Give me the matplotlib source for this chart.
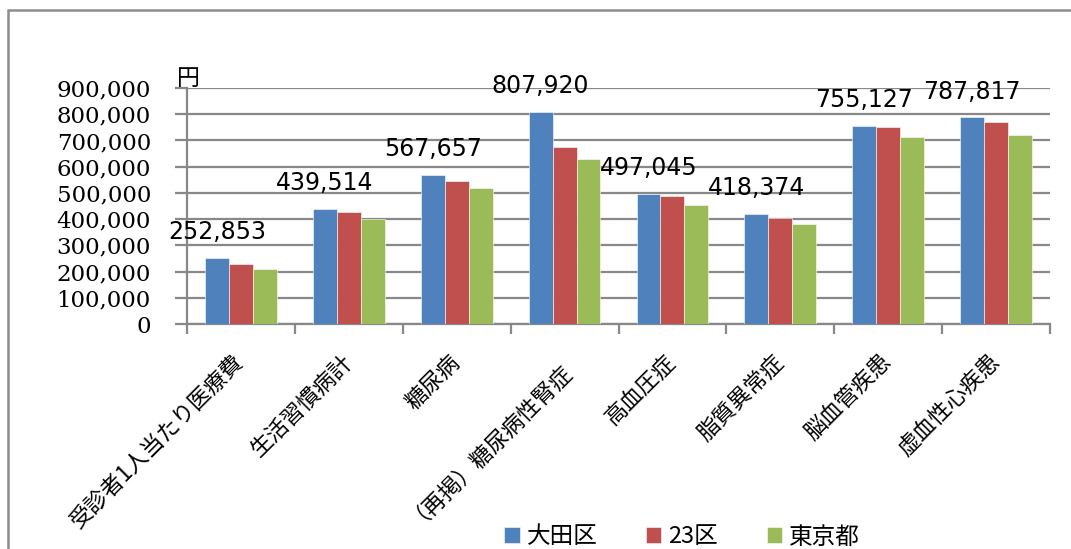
import matplotlib.pyplot as plt
from matplotlib.patches import Rectangle
import numpy as np

# 受診者1人当たり医療費（円）
categories = ['受診者1人当たり医療費', '生活習慣病計', '糖尿病', '（再掲）糖尿病性腎症',
              '高血圧症', '脂質異常症', '脳血管疾患', '虚血性心疾患']
ota = [252853, 439514, 567657, 807920, 497045, 418374, 755127, 787817]
ku23 = [230000, 426000, 545000, 676000, 488000, 403000, 753000, 770000]
tokyo = [209000, 400000, 519000, 629000, 454000, 380000, 713000, 719000]
series_names = ['大田区', '23区', '東京都']
yticks = [0, 100000, 200000, 300000, 400000, 500000, 600000, 700000, 800000, 900000]

colors = ['#4F81BD', '#C0504D', '#9BBB59']
jp_font = ['Noto Sans CJK JP', 'DejaVu Sans']
grid_color = '#888888'

fig = plt.figure(figsize=(10.71, 5.49), dpi=100)
ax = fig.add_axes([0.1746, 0.4098, 0.8058, 0.4299])

# outer frame of the chart area (runs off the right and bottom edges)
fig.patches.append(Rectangle((8 / 1071, -0.2), 1.2, 1.2 - 10 / 549,
                             transform=fig.transFigure, fill=False,
                             edgecolor='#8c8c8c', linewidth=1.8, zorder=0))

x = np.arange(len(categories))
width = 0.222
for i, (vals, name) in enumerate(zip([ota, ku23, tokyo], series_names)):
    ax.bar(x + (i - 1) * width, vals, width, color=colors[i], label=name,
           edgecolor='white', linewidth=0.4, zorder=3)

# value labels above the 大田区 bars
for xi, v in zip(x, ota):
    ax.annotate(f'{v:,}', (xi - width, v), xytext=(0, 10), textcoords='offset points',
                ha='center', va='bottom', fontsize=17, family='DejaVu Sans', zorder=4)

ax.set_xlim(-0.5, len(categories) - 0.5)
ax.set_ylim(0, 900000)
ax.set_yticks(yticks)
ax.set_yticklabels([f'{t:,}' for t in yticks], fontsize=16.5, family='DejaVu Serif')
ax.yaxis.grid(True, color=grid_color, linewidth=1.6, zorder=0)
ax.tick_params(axis='y', length=9, width=1.6, color=grid_color, pad=17)

# category boundaries get the tick marks, centres get the labels
ax.set_xticks(np.arange(-0.5, len(categories), 1.0))
ax.set_xticklabels([])
ax.tick_params(axis='x', which='major', length=7, width=1.6, color=grid_color)
ax.set_xticks(x, minor=True)
ax.set_xticklabels(categories, minor=True, rotation=45, ha='right', va='center',
                   rotation_mode='anchor', fontsize=16, family=jp_font)
ax.tick_params(axis='x', which='minor', length=0, pad=25)

for side in ['top', 'right']:
    ax.spines[side].set_visible(False)
for side in ['left', 'bottom']:
    ax.spines[side].set_color(grid_color)
    ax.spines[side].set_linewidth(1.6)

ax.text(-0.012, 0.99, '円', transform=ax.transAxes, fontsize=16.5, family=jp_font,
        ha='left', va='bottom')

handles, labels = ax.get_legend_handles_labels()
fig.legend(handles, labels, loc='center', bbox_to_anchor=(0.637, 0.022), ncol=3,
           frameon=False, prop={'family': jp_font, 'size': 17},
           handlelength=0.65, handleheight=0.65, handletextpad=0.3, columnspacing=2.05)

fig.savefig('out.png', dpi=100)
